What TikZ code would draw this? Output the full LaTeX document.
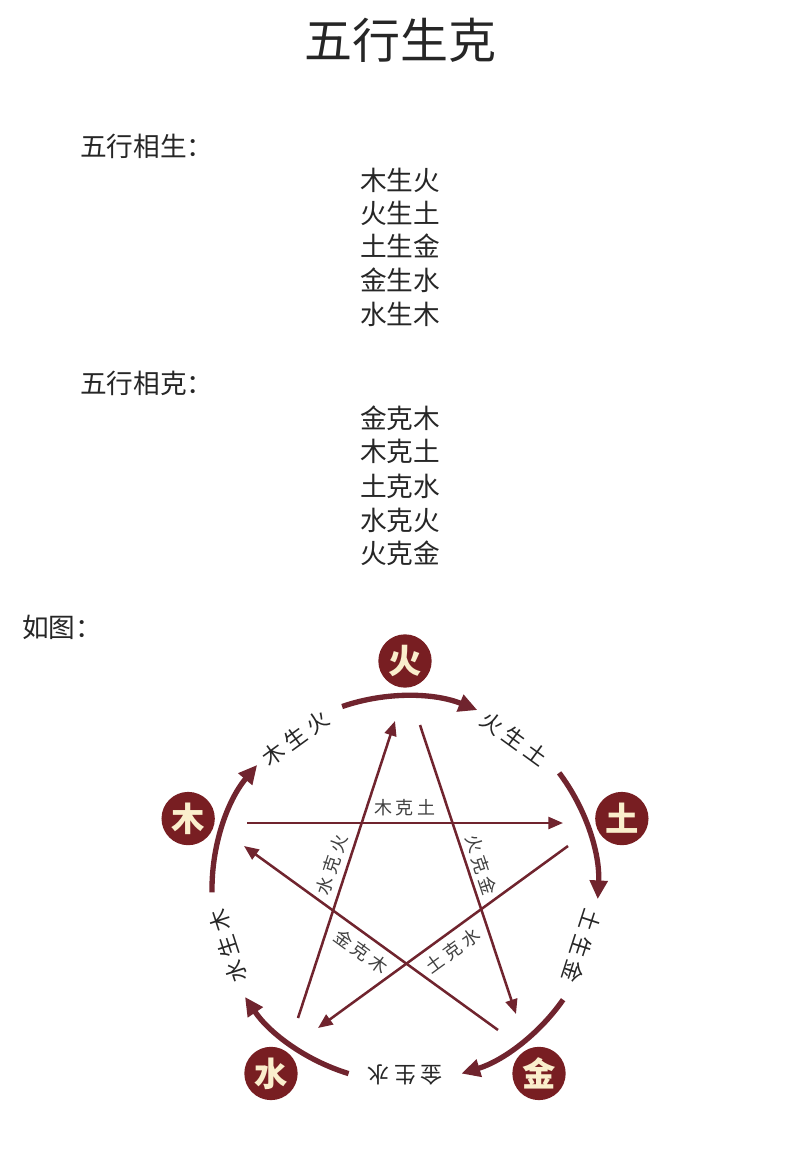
\documentclass[tikz,border=0pt]{standalone}
\usepackage{fontspec}
\setmainfont{Noto Sans CJK SC}
\newfontfamily\ringfont[LetterSpace=22]{Noto Sans CJK SC}
\usetikzlibrary{calc, arrows.meta}

\definecolor{wxred}{RGB}{120,30,34}
\definecolor{wxline}{RGB}{112,36,46}
\definecolor{wxcream}{RGB}{250,238,204}

\begin{document}
\begin{tikzpicture}[
            x=0.75pt, y=0.75pt,
            element/.style={
                circle, fill=wxred, minimum size=40pt, inner sep=0pt,
                text=wxcream, font=\fontsize{25}{25}\selectfont\bfseries
            },
            cycle arrow/.style={wxline, line width=4pt, -{Triangle[length=14pt, width=13pt]}},
            check arrow/.style={wxline, line width=1.9pt, -{Triangle[length=11pt, width=9pt]}},
            ring label/.style={font=\ringfont\fontsize{16.5}{16.5}\selectfont, text=black!85},
            check label/.style={font=\ringfont\fontsize{13.5}{13.5}\selectfont, text=black!75},
            heading/.style={anchor=west, inner sep=0pt, font=\fontsize{20}{20}\selectfont, text=black!85},
            rule line/.style={font=\fontsize{20}{20}\selectfont, text=black!85}
        ]

            \useasboundingbox (0,0) rectangle (800,-1155);

            \pgfmathsetmacro{\R}{228}
            \pgfmathsetmacro{\ring}{193}
            \pgfmathsetmacro{\lab}{186}

            % text part
            \node[font=\fontsize{36}{36}\selectfont, text=black!85] (title) at (400,-40) {五行生克};

            \node[heading] (sheng) at (80,-146) {五行相生：};
            \node[rule line] (s1) at (400,-180) {木生火};
            \node[rule line] (s2) at (400,-213) {火生土};
            \node[rule line] (s3) at (400,-246) {土生金};
            \node[rule line] (s4) at (400,-280) {金生水};
            \node[rule line] (s5) at (400,-314) {水生木};

            \node[heading] (ke) at (80,-383) {五行相克：};
            \node[rule line] (k1) at (400,-418) {金克木};
            \node[rule line] (k2) at (400,-451) {木克土};
            \node[rule line] (k3) at (400,-486) {土克水};
            \node[rule line] (k4) at (400,-520) {水克火};
            \node[rule line] (k5) at (400,-553) {火克金};

            \node[heading] (rutu) at (22,-627) {如图：};

            % the five elements
            \coordinate (O) at (405,-889);
            \node[element] (huo) at ($(O)+(90:\R)$) {火};
            \node[element] (tu) at ($(O)+(18:\R)$) {土};
            \node[element] (jin) at ($(O)+(-54:\R)$) {金};
            \node[element] (shui) at ($(O)+(-126:\R)$) {水};
            \node[element] (mu) at ($(O)+(162:\R)$) {木};

            % sheng cycle
            \draw[cycle arrow] ($(O)+(109:\ring)$) arc[start angle=109, end angle=68, radius=\ring];
            \draw[cycle arrow] ($(O)+(37:\ring)$) arc[start angle=37, end angle=-3, radius=\ring];
            \draw[cycle arrow] ($(O)+(-35:\ring)$) arc[start angle=-35, end angle=-73, radius=\ring];
            \draw[cycle arrow] ($(O)+(-107:\ring)$) arc[start angle=-107, end angle=-146, radius=\ring];
            \draw[cycle arrow] ($(O)+(181:\ring)$) arc[start angle=181, end angle=140, radius=\ring];

            \node[ring label, rotate=36] (mshuo) at ($(O)+(126:\lab)$) {木生火};
            \node[ring label, rotate=-36] (hstu) at ($(O)+(54:\lab)$) {火生土};
            \node[ring label, rotate=-108] (tsjin) at ($(O)+(-18:\lab)$) {土生金};
            \node[ring label, rotate=-180] (jsshui) at ($(O)+(-90:\lab)$) {金生水};
            \node[ring label, rotate=108] (ssmu) at ($(O)+(198:\lab)$) {水生木};

            % ke cycle
            \coordinate (mu1) at (247,-823);
            \coordinate (tu2) at (563,-823);
            \coordinate (tu1) at (568,-846);
            \coordinate (shui2) at (318,-1028);
            \coordinate (shui1) at (298,-1018);
            \coordinate (huo2) at (395,-721);
            \coordinate (huo1) at (420,-725);
            \coordinate (jin2) at (516,-1014);
            \coordinate (jin1) at (498,-1030);
            \coordinate (mu2) at (244,-846);

            \draw[check arrow] (mu1) -- (tu2) node[midway, above=1pt, sloped, check label] {木克土};
            \draw[check arrow] (tu1) -- (shui2) node[midway, below=2pt, sloped, check label] {土克水};
            \draw[check arrow] (shui1) -- (huo2) node[midway, above=1pt, sloped, check label] {水克火};
            \draw[check arrow] (huo1) -- (jin2) node[midway, above=0pt, sloped, check label] {火克金};
            \draw[check arrow] (jin1) -- (mu2) node[midway, below=2pt, sloped, check label] {金克木};

        \end{tikzpicture}
\end{document}
